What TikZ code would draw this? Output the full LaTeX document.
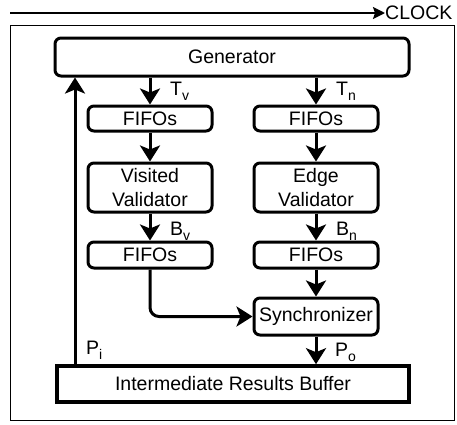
\documentclass[tikz,border=0pt]{standalone}
\usepackage{fontspec}
\setmainfont{Liberation Sans}
\usetikzlibrary{arrows.meta}
\newcommand\sbs[1]{\raisebox{-5pt}{\fontsize{14}{14}\selectfont #1}}
\begin{document}
\begin{tikzpicture}[x=1pt,y=-1pt,
  txt/.style={font=\fontsize{19.5}{23.4}\selectfont},
  box/.style={txt, draw, line width=3pt, rounded corners=6pt, minimum width=124pt, inner sep=0pt, align=center},
  arr/.style={line width=3pt, -{Stealth[length=16pt,width=20pt,inset=4pt]}},
  lbl/.style={txt, anchor=base west, inner sep=0pt},
]
\useasboundingbox (0,0) rectangle (457,424);
% outer frame
\draw[line width=1.2pt] (10.5,25.5) rectangle (454.5,420.5);
% clock
\coordinate (clk0) at (10,13);
\node[txt, anchor=west, inner sep=0pt] (clock) at (385,13) {CLOCK};
\draw[line width=2pt, -{Stealth[length=12pt,width=12pt,inset=2pt]}] (clk0) -- (clock.west);
% nodes
\node[box, minimum width=354pt, minimum height=38pt] (gen) at (232,57) {Generator};
\node[box, minimum height=25pt] (fl1) at (150,118.5) {FIFOs};
\node[box, minimum height=25pt] (fr1) at (316,118.5) {FIFOs};
\node[box, minimum height=49pt] (vl) at (150,187.5) {Visited\\Validator};
\node[box, minimum height=49pt] (vr) at (316,187.5) {Edge\\Validator};
\node[box, minimum height=26pt] (fl2) at (150,255) {FIFOs};
\node[box, minimum height=26pt] (fr2) at (316,255) {FIFOs};
\node[box, minimum height=37pt] (sync) at (316,316.5) {Synchronizer};
\node[box, rounded corners=0pt, line width=3.6pt, minimum width=352pt, minimum height=36pt] (buf) at (233,384) {Intermediate Results Buffer};
% connectors
\draw[arr] (fl1.north |- gen.south) -- (fl1.north);
\draw[arr] (fr1.north |- gen.south) -- (fr1.north);
\draw[arr] (fl1) -- (vl);
\draw[arr] (fr1) -- (vr);
\draw[arr] (vl) -- (fl2);
\draw[arr] (vr) -- (fr2);
\draw[arr, rounded corners=9pt] (fl2.south) |- (sync.west);
\draw[arr] (fr2) -- (sync);
\draw[arr] (sync.south) -- (sync.south |- buf.north);
\coordinate (pix) at (75,0);
\draw[arr] (buf.north -| pix) -- (gen.south -| pix);
% labels
\node[lbl] (tv) at (170,95) {T\sbs{v}};
\node[lbl] (tn) at (336,95) {T\sbs{n}};
\node[lbl] (bv) at (170,235) {B\sbs{v}};
\node[lbl] (bn) at (336,235) {B\sbs{n}};
\node[lbl] (po) at (335,356) {P\sbs{o}};
\node[lbl] (pi) at (86,354) {P\sbs{i}};
\end{tikzpicture}
\end{document}
